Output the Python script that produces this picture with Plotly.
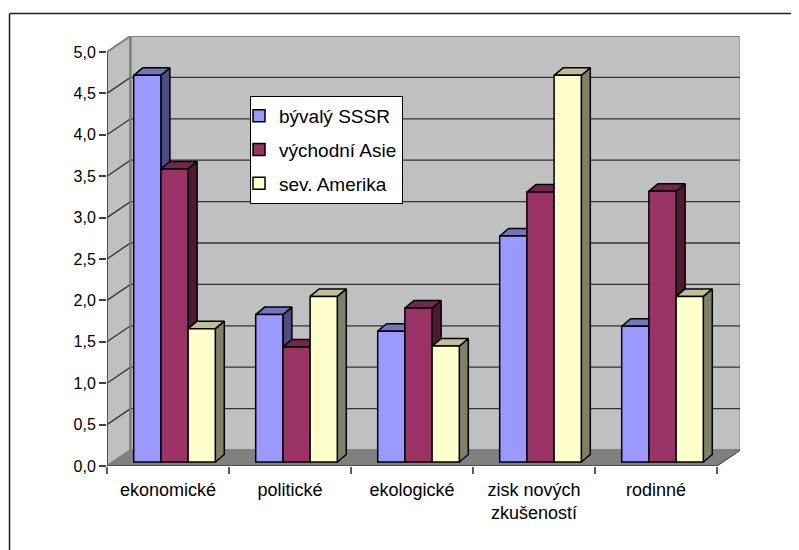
import plotly.graph_objects as go

categories = ["ekonomické", "politické", "ekologické", "zisk nových<br>zkušeností", "rodinné"]
series_names = ["bývalý SSSR", "východní Asie", "sev. Amerika"]
sssr = [4.67, 1.78, 1.58, 2.73, 1.64]
asie = [3.54, 1.39, 1.86, 3.26, 3.27]
amerika = [1.61, 2.00, 1.40, 4.67, 2.00]
front_colors = ["#9999FF", "#993366", "#FFFFCC"]
top_colors = ["#7373BF", "#73264D", "#BFBF99"]
side_colors = ["#4D4D80", "#4D1A33", "#808066"]
y_ticks = [0, 0.5, 1, 1.5, 2, 2.5, 3, 3.5, 4, 4.5, 5]
y_labels = ["0,0", "0,5", "1,0", "1,5", "2,0", "2,5", "3,0", "3,5", "4,0", "4,5", "5,0"]

# The page has an 8px body margin, so the figure is 8px smaller and offset
OFF = 8
W, H = 799 - OFF, 550 - OFF
L, R, T, B = 107 - OFF, 740 - OFF, 36 - OFF, 466 - OFF
px_x = 122.0
px_y = 82.8
wall_dx = 23.5 / px_x
wall_dy = 16 / px_y
bar_dx = 9 / px_x
bar_dy = 7.5 / px_y
bar_w = 27.2 / px_x
bar_shift = 6.5 / px_x
bar_base = 4 / px_y
xmin, xmax = -0.5, 4.5
ymax = 5.0

fig = go.Figure()


def poly(xs, ys, fill, line="#000000", lw=1.5):
    fig.add_trace(go.Scatter(x=xs, y=ys, mode="lines", fill="toself", fillcolor=fill,
                             line=dict(color=line, width=lw), showlegend=False,
                             hoverinfo="skip", cliponaxis=False))


def seg(xs, ys, color, lw):
    fig.add_trace(go.Scatter(x=xs, y=ys, mode="lines", line=dict(color=color, width=lw),
                             showlegend=False, hoverinfo="skip", cliponaxis=False))


bx0, bx1 = xmin + wall_dx, xmax + wall_dx
# side wall, back wall, floor
poly([xmin, bx0, bx0, xmin, xmin], [0, wall_dy, ymax + wall_dy, ymax, 0], "#C0C0C0", "#808080", 2)
poly([bx0, bx1, bx1, bx0, bx0], [wall_dy, wall_dy, ymax + wall_dy, ymax + wall_dy, wall_dy], "#C0C0C0", "#808080", 2)
poly([xmin, xmax, bx1, bx0, xmin], [0, 0, wall_dy, wall_dy, 0], "#808080", "#808080", 1)
# gridlines
for v in y_ticks[1:-1]:
    seg([xmin, bx0, bx1], [v, v + wall_dy, v + wall_dy], "#333333", 1.3)
seg([bx0, bx0], [wall_dy, ymax + wall_dy], "#808080", 2)
# axis lines
seg([xmin, xmin], [0, ymax], "#404040", 1.5)
seg([xmin, xmax], [0, 0], "#404040", 1.5)
seg([xmax, bx1], [0, wall_dy], "#404040", 1)

all_series = [sssr, asie, amerika]
# depth faces, drawn left to right
for i in range(len(categories)):
    for j, vals in enumerate(all_series):
        x0 = i + bar_shift + (j - 1.5) * bar_w
        x1 = x0 + bar_w
        top = bar_base + vals[i]
        poly([x1, x1 + bar_dx, x1 + bar_dx, x1, x1],
             [bar_base, bar_base + bar_dy, top + bar_dy, top, bar_base], side_colors[j])
        poly([x0, x1, x1 + bar_dx, x0 + bar_dx, x0],
             [top, top, top + bar_dy, top + bar_dy, top], top_colors[j])

# front faces
for j, vals in enumerate(all_series):
    fig.add_trace(go.Bar(x=[i + bar_shift + (j - 1) * bar_w for i in range(len(categories))],
                         y=vals, base=bar_base, width=bar_w, name=series_names[j], yaxis="y2",
                         marker=dict(color=front_colors[j], line=dict(color="#000000", width=1.5)),
                         legendgroup=series_names[j], hoverinfo="skip"))

family = "Liberation Sans, Arial, sans-serif"
yrange = [0, (B - T) / px_y]
pw, ph = R - L, B - T
fig.update_layout(
    width=W, height=H, autosize=False, barmode="overlay", plot_bgcolor="#FFFFFF", paper_bgcolor="#FFFFFF",
    margin=dict(l=L, r=W - R, t=T, b=H - B, pad=0), font=dict(family=family, size=18, color="#000000"),
    xaxis=dict(range=[xmin, xmin + pw / px_x], tickmode="array", tickvals=list(range(len(categories))),
               ticktext=categories, ticks="", showgrid=False, zeroline=False, showline=False,
               ticklabelstandoff=11, tickangle=0, tickfont=dict(family=family, size=18, color="#000000"),
               minor=dict(tickmode="array", tickvals=[i - 0.5 for i in range(len(categories) + 1)],
                          ticks="outside", ticklen=7, tickwidth=1.5, tickcolor="#606060", showgrid=False)),
    yaxis=dict(range=yrange, tickmode="array", tickvals=y_ticks, ticktext=y_labels, ticks="outside",
               ticklen=7, tickwidth=1.5, tickcolor="#404040", showgrid=False, zeroline=False, showline=False,
               tickfont=dict(family=family, size=16, color="#000000")),
    yaxis2=dict(range=yrange, overlaying="y", visible=False),
    legend=dict(x=(250 - OFF - L) / pw, y=1 - (96 - OFF - T) / ph, xanchor="left", yanchor="top",
                bgcolor="#FFFFFF", bordercolor="#000000", borderwidth=1, tracegroupgap=6,
                traceorder="grouped", itemwidth=30, indentation=-12,
                font=dict(family=family, size=19, color="#000000")),
    shapes=[
        dict(type="line", xref="paper", yref="paper", x0=(1.5 - L) / pw, x1=(W - L) / pw,
             y0=(B - 5.5) / ph, y1=(B - 5.5) / ph, line=dict(color="#202020", width=1.5)),
        dict(type="line", xref="paper", yref="paper", x0=(1.5 - L) / pw, x1=(1.5 - L) / pw,
             y0=(B - 5.5) / ph, y1=(B - H) / ph, line=dict(color="#202020", width=1.5)),
    ],
)
fig.write_html("out.html")
